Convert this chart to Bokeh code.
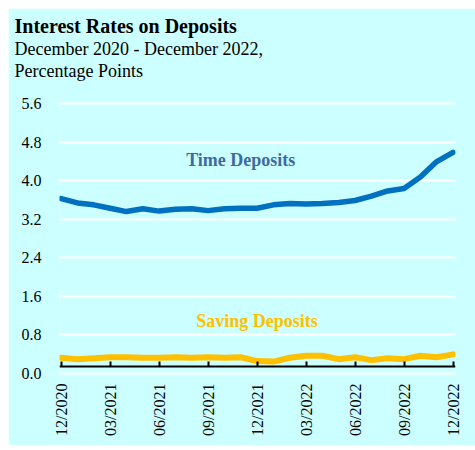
import math
from bokeh.plotting import figure
from bokeh.models import (LinearAxis, FixedTicker, Title, Label, Range1d)
from bokeh.embed import file_html
from bokeh.resources import INLINE

# ---- data ----
months = list(range(25))  # Dec 2020 .. Dec 2022
time_deposits = [3.63, 3.54, 3.50, 3.43, 3.36, 3.42, 3.37, 3.41, 3.42, 3.38,
                 3.42, 3.43, 3.43, 3.50, 3.53, 3.52, 3.53, 3.55, 3.59, 3.68,
                 3.79, 3.84, 4.08, 4.40, 4.59]
saving_deposits = [0.32, 0.29, 0.31, 0.33, 0.33, 0.32, 0.32, 0.33, 0.32, 0.33,
                   0.32, 0.33, 0.25, 0.24, 0.32, 0.36, 0.36, 0.29, 0.33, 0.27,
                   0.31, 0.29, 0.36, 0.33, 0.39]
x_ticks = [0, 3, 6, 9, 12, 15, 18, 21, 24]
x_tick_labels = ["12/2020", "03/2021", "06/2021", "09/2021", "12/2021",
                 "03/2022", "06/2022", "09/2022", "12/2022"]
y_ticks = [0.0, 0.8, 1.6, 2.4, 3.2, 4.0, 4.8, 5.6]

BG = "#CCFFFF"
SERIF = "Liberation Serif"

p = figure(width=467, height=437, output_backend="svg", toolbar_location=None,
           x_range=Range1d(-0.1, 24.15), y_range=Range1d(-0.05, 5.65),
           x_axis_location=None, min_border_left=51, min_border_right=20,
           min_border_bottom=70, min_border_top=93)
p.margin = (8, 0, 0, 8)
p.background_fill_color = BG
p.border_fill_color = BG
p.outline_line_color = None

# titles (added inner to outer); the first is an empty spacer line
for txt, bold, size in [(" ", False, "17px"),
                        ("Percentage Points", False, "18px"),
                        ("December 2020 - December 2022,", False, "18px"),
                        ("Interest Rates on Deposits", True, "20px")]:
    p.add_layout(Title(text=txt, align="left", offset=-45, text_font=SERIF,
                       text_font_size=size,
                       text_font_style="bold" if bold else "normal",
                       text_color="black", standoff=0,
                       text_line_height=1.0), "above")

# grid
p.xgrid.grid_line_color = None
p.ygrid.grid_line_color = "white"
p.ygrid.grid_line_width = 2
p.ygrid.ticker = FixedTicker(ticks=y_ticks)

# y axis
p.yaxis.ticker = FixedTicker(ticks=y_ticks)
p.yaxis.major_label_overrides = {t: f"{t:.1f}" for t in y_ticks}
p.yaxis.axis_line_color = None
p.yaxis.major_tick_line_color = None
p.yaxis.minor_tick_line_color = None
p.yaxis.major_label_text_font = SERIF
p.yaxis.major_label_text_font_size = "16px"
p.yaxis.major_label_text_color = "black"
p.yaxis.major_label_standoff = 12

# x axis line + ticks at a fixed location inside the frame
xline = LinearAxis(fixed_location=0.13, ticker=FixedTicker(ticks=x_ticks),
                   major_label_text_alpha=0,
                   axis_line_color="black", axis_line_width=2,
                   major_tick_line_color="black", major_tick_line_width=2,
                   major_tick_in=5, major_tick_out=0,
                   minor_tick_line_color=None)
p.add_layout(xline, "below")

# x tick labels below the frame
xlab = LinearAxis(ticker=FixedTicker(ticks=x_ticks),
                  major_label_overrides=dict(zip(x_ticks, x_tick_labels)),
                  major_label_orientation=math.pi / 2,
                  axis_line_color=None, major_tick_line_color=None,
                  minor_tick_line_color=None, major_tick_in=0, major_tick_out=0,
                  major_label_text_font=SERIF, major_label_text_font_size="16px",
                  major_label_text_color="black", major_label_standoff=8)
p.add_layout(xlab, "below")

p.line(months, time_deposits, line_color="#0070C0", line_width=5.5,
       line_cap="round", line_join="round")
p.line(months, saving_deposits, line_color="#FFC000", line_width=6,
       line_cap="round", line_join="round")

p.add_layout(Label(x=11, y=4.44, text="Time Deposits", text_font=SERIF,
                   text_font_size="18px", text_font_style="bold",
                   text_color="#3E6A9F", text_align="center",
                   text_baseline="middle"))
p.add_layout(Label(x=12, y=1.09, text="Saving Deposits", text_font=SERIF,
                   text_font_size="18px", text_font_style="bold",
                   text_color="#FFC000", text_align="center",
                   text_baseline="middle"))

open("out.html", "w").write(file_html(p, INLINE))
